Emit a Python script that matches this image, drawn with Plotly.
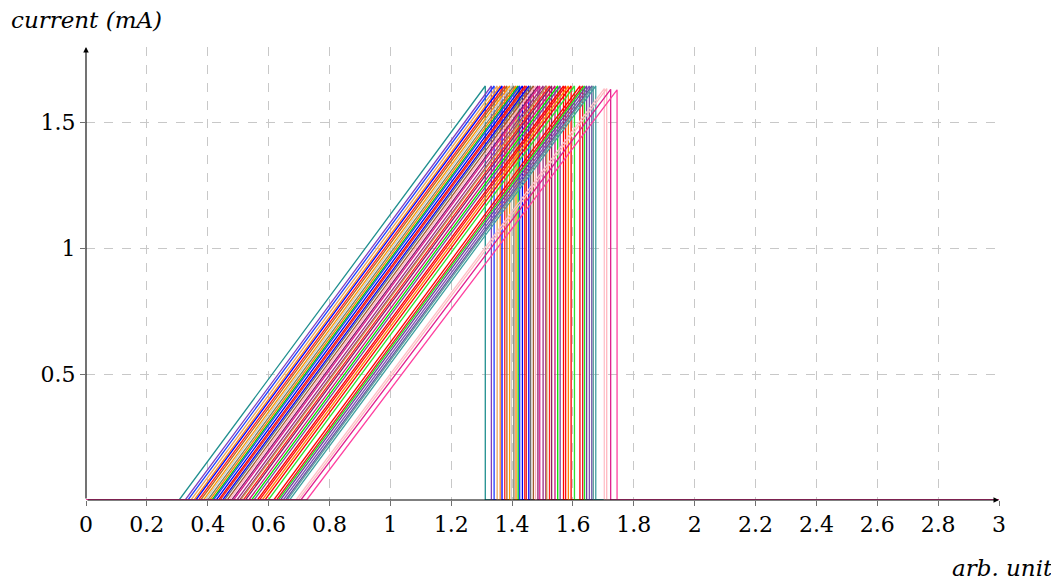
import plotly.graph_objects as go

# ramp start (x where current leaves 0), peak x (where it drops), peak current
ramp_start = [0.306, 0.326, 0.335, 0.345, 0.355, 0.361, 0.370, 0.377, 0.386, 0.392,
              0.400, 0.407, 0.414, 0.419, 0.428, 0.436, 0.441, 0.449, 0.455, 0.464,
              0.471, 0.479, 0.485, 0.496, 0.505, 0.508, 0.517, 0.524, 0.535, 0.544,
              0.552, 0.563, 0.570, 0.579, 0.588, 0.599, 0.617, 0.626, 0.632, 0.639,
              0.648, 0.656, 0.661, 0.669, 0.690, 0.698, 0.706, 0.725]
drop_x = [1.312, 1.332, 1.341, 1.351, 1.361, 1.367, 1.376, 1.383, 1.392, 1.398,
          1.406, 1.413, 1.420, 1.425, 1.434, 1.442, 1.447, 1.455, 1.461, 1.470,
          1.477, 1.485, 1.491, 1.502, 1.511, 1.514, 1.523, 1.530, 1.541, 1.550,
          1.558, 1.569, 1.576, 1.585, 1.594, 1.605, 1.623, 1.632, 1.638, 1.645,
          1.654, 1.662, 1.667, 1.675, 1.703, 1.711, 1.724, 1.745]
peak_y = [1.645] * 44 + [1.635, 1.635, 1.632, 1.630]

colors = ["#1f8f8f", "#7f3fbf", "#1f3fff", "#e8a860", "#ff8c1a", "#0000ff", "#ff2020", "#b5651d",
          "#ff9900", "#c8c8c8", "#7f7f5f", "#ff8000", "#00cc00", "#2040ff", "#0000ee", "#ff0000",
          "#e03030", "#0000ff", "#707070", "#a05a2c", "#ffb0c0", "#8b1a6b", "#e0208f", "#9b2f7f",
          "#a02070", "#c8964a", "#ff2020", "#8b2060", "#d0107f", "#00e000", "#8040a0", "#ff0000",
          "#ff1010", "#ff8000", "#ff0000", "#30e030", "#ff0000", "#f01020", "#20e020", "#7040a0",
          "#8050b0", "#6a4fa0", "#5f9f9f", "#3fa0a0", "#ffc0c8", "#ffb8c0", "#e0208f", "#ff40a0"]

x_ticks = [0, 0.2, 0.4, 0.6, 0.8, 1, 1.2, 1.4, 1.6, 1.8, 2, 2.2, 2.4, 2.6, 2.8, 3]
x_tick_labels = ["0", "0.2", "0.4", "0.6", "0.8", "1", "1.2", "1.4", "1.6", "1.8",
                 "2", "2.2", "2.4", "2.6", "2.8", "3"]
y_ticks = [0.5, 1, 1.5]
y_tick_labels = ["0.5", "1", "1.5"]

X_MIN, X_MAX = 0, 3
Y_MAX = 1.8

FONT = "DejaVu Serif"
TICK_SIZE = 22
LABEL_SIZE = 23

fig = go.Figure()
for s, d, p, c in zip(ramp_start, drop_x, peak_y, colors):
    fig.add_trace(go.Scatter(
        x=[X_MIN, s, d, d, X_MAX], y=[0, 0, p, 0, 0],
        mode="lines", line=dict(color=c, width=1.3), showlegend=False, hoverinfo="skip"))

fig.update_layout(
    width=1051, height=573,
    margin=dict(l=78, r=60, t=39, b=81),
    paper_bgcolor="white", plot_bgcolor="white",
    font=dict(family=FONT, size=TICK_SIZE, color="black"),
    xaxis=dict(range=[X_MIN, X_MAX], tickvals=x_ticks, ticktext=x_tick_labels,
               showgrid=True, gridcolor="#c8c8c8", griddash="dash", gridwidth=1,
               zeroline=False, showline=False, ticks="outside", ticklen=5,
               tickcolor="#707070", tickfont=dict(family=FONT, size=TICK_SIZE)),
    yaxis=dict(range=[0, Y_MAX], tickvals=y_ticks, ticktext=y_tick_labels,
               showgrid=True, gridcolor="#c8c8c8", griddash="dash", gridwidth=1,
               zeroline=False, showline=False, ticks="outside", ticklen=5,
               tickcolor="#707070", tickfont=dict(family=FONT, size=TICK_SIZE)),
)

# axis lines with arrow heads
fig.add_annotation(x=X_MAX, y=0, ax=X_MIN, ay=0, xref="x", yref="y", axref="x", ayref="y",
                   text="", showarrow=True, arrowhead=2, arrowsize=1, arrowwidth=1.1,
                   arrowcolor="black")
fig.add_annotation(x=0, y=Y_MAX, ax=0, ay=0, xref="x", yref="y", axref="x", ayref="y",
                   text="", showarrow=True, arrowhead=2, arrowsize=1, arrowwidth=1.1,
                   arrowcolor="black")

fig.add_annotation(text="<i>current (mA)</i>", xref="paper", yref="paper",
                   x=0.0, y=1.06, xanchor="center", yanchor="middle", showarrow=False,
                   font=dict(family=FONT, size=LABEL_SIZE))
fig.add_annotation(text="<i>arb. unit</i>", xref="paper", yref="paper",
                   x=1.061, y=-0.150, xanchor="right", yanchor="middle", showarrow=False,
                   font=dict(family=FONT, size=LABEL_SIZE))

fig.write_html("out.html")
